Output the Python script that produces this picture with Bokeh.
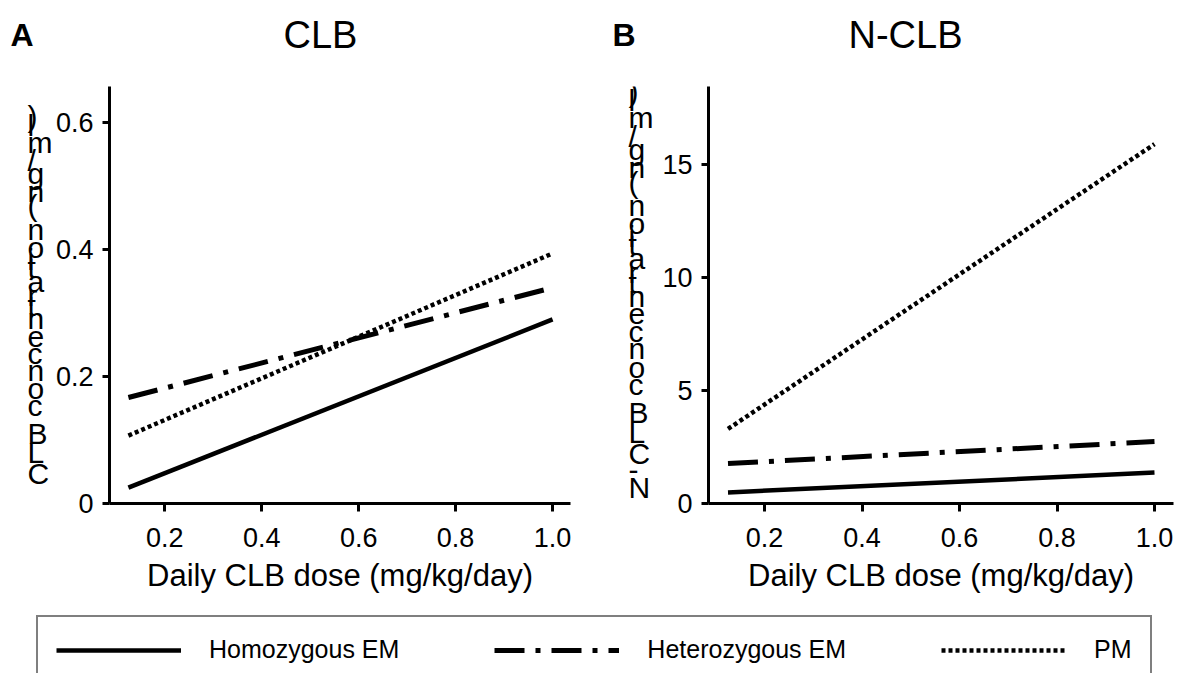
from bokeh.plotting import figure
from bokeh.models import Range1d, FixedTicker, Legend, LegendItem, NumeralTickFormatter
from bokeh.core.properties import value
from bokeh.layouts import column, row
from bokeh.embed import file_html
from bokeh.resources import INLINE

# ---------------- data ----------------
dose = [0.125, 1.0]
series_names = ["Homozygous EM", "Heterozygous EM", "PM"]

clb_homo = [0.025, 0.290]
clb_hetero = [0.167, 0.340]
clb_pm = [0.107, 0.394]

nclb_homo = [0.49, 1.37]
nclb_hetero = [1.77, 2.74]
nclb_pm = [3.3, 15.9]

x_ticks = [0.2, 0.4, 0.6, 0.8, 1.0]
clb_ticks = [0, 0.2, 0.4, 0.6]
nclb_ticks = [0, 5, 10, 15]

panel_titles = ["CLB", "N-CLB"]
panel_letters = ["A", "B"]
y_labels = ["CLB concentration (ng/ml)", "N-CLB concentration (ng/ml)"]
x_label = "Daily CLB dose (mg/kg/day)"

FONT = "Liberation Sans"

styles = [
    dict(line_dash="solid", line_width=4.5),
    dict(line_dash="30 11 5 11", line_width=5),
    dict(line_dash="4 3", line_width=4.5),
]

# approximate horizontal advances (em), used to lay out the stacked y-label characters
ADV = {"C": .722, "L": .556, "B": .667, " ": .278, "c": .5, "o": .556, "n": .556,
       "e": .556, "t": .278, "r": .333, "a": .556, "i": .222, "(": .333, ")": .333,
       "g": .556, "/": .278, "m": .833, "l": .222, "N": .722, "-": .333}

TOP_H = 70      # title strip height
MID_H = 530     # panel row height
LEG_H = 73      # legend strip height
B_TOP = 16      # panel border above frame
B_BOT = 97      # panel border below frame


def blank_fig(w, h, y0, y1, bt=0, bb=0):
    f = figure(width=w, height=h, output_backend="svg", toolbar_location=None, title=None,
               x_axis_type=None, y_axis_type=None,
               min_border_left=0, min_border_right=0, min_border_top=bt, min_border_bottom=bb,
               x_range=Range1d(0, w), y_range=Range1d(y0, y1))
    f.grid.visible = False
    f.outline_line_color = None
    return f


def stacked_label_fig(text, w, x_left, y_first, em):
    # frame matches the panel frame; y data = page y
    f = blank_fig(w, MID_H, TOP_H + MID_H - B_BOT, TOP_H + B_TOP, B_TOP, B_BOT)
    xs, ys, cs = [], [], []
    cum = 0.0
    first = ADV[text[0]]
    for ch in text:
        a = ADV[ch]
        if ch != " ":
            xs.append(x_left)
            ys.append(y_first - em * (cum + a / 2 - first / 2))
            cs.append(ch)
        cum += a
    f.text(x=xs, y=ys, text=cs, text_font=value(FONT), text_font_size=value("30px"),
           text_color="black", text_baseline="middle", text_align="left")
    return f


def make_panel(ys, yticks, yrange, xrange, yfmt, overrides, width, bl, br):
    p = figure(width=width, height=MID_H, output_backend="svg", toolbar_location=None, title=None,
               x_range=Range1d(*xrange), y_range=Range1d(*yrange),
               min_border_left=bl, min_border_right=br, min_border_top=B_TOP, min_border_bottom=B_BOT)
    p.grid.visible = False
    p.outline_line_color = None
    for y, st in zip(ys, styles):
        p.line(dose, y, line_color="black", line_cap="butt", **st)
    for ax in (p.xaxis[0], p.yaxis[0]):
        ax.axis_line_width = 3
        ax.axis_line_color = "black"
        ax.major_tick_line_width = 3
        ax.major_tick_line_color = "black"
        ax.major_tick_in = 0
        ax.major_tick_out = 8
        ax.minor_tick_line_color = None
        ax.major_label_text_font = FONT
        ax.major_label_text_font_size = "27px"
        ax.major_label_text_color = "black"
    xa = p.xaxis[0]
    xa.ticker = FixedTicker(ticks=x_ticks)
    xa.formatter = NumeralTickFormatter(format="0.0")
    xa.major_label_standoff = 16
    xa.axis_label = x_label
    xa.axis_label_text_font = FONT
    xa.axis_label_text_font_size = "31px"
    xa.axis_label_text_font_style = "normal"
    xa.axis_label_text_color = "black"
    xa.axis_label_standoff = 8
    ya = p.yaxis[0]
    ya.ticker = FixedTicker(ticks=yticks)
    ya.formatter = NumeralTickFormatter(format=yfmt)
    ya.major_label_overrides = overrides
    ya.major_label_standoff = 9
    ya.major_tick_out = 7
    return p


# ---- title strip (y data = page y) ----
tfig = blank_fig(1179, TOP_H, TOP_H, 0)
tfig.text(x=[10, 612], y=[34, 34], text=panel_letters, text_font=value(FONT),
          text_font_size=value("32px"), text_font_style="bold", text_color="black",
          text_align="left", text_baseline="middle")
tfig.text(x=[320, 905], y=[34, 34], text=panel_titles, text_font=value(FONT),
          text_font_size=value("38px"), text_color="black",
          text_align="center", text_baseline="middle")

# ---- panels ----
labA = stacked_label_fig(y_labels[0], 52, 27, 473, 32.2)
pA = make_panel([clb_homo, clb_hetero, clb_pm], clb_ticks, (0, 0.657), (0.086, 1.037),
                "0.0", {0: "0"}, 548, 53, 30)
labB = stacked_label_fig(y_labels[1], 56, 28, 487, 32.6)
pB = make_panel([nclb_homo, nclb_hetero, nclb_pm], nclb_ticks, (0, 18.45), (0.085, 1.039),
                "0", {}, 523, 52, 6)

# ---- legend strip ----
pl = figure(width=1179, height=LEG_H, output_backend="svg", toolbar_location=None, title=None,
            x_axis_type=None, y_axis_type=None, min_border=0,
            x_range=Range1d(0, 1), y_range=Range1d(100, 101))
pl.grid.visible = False
pl.outline_line_color = None
rends = [pl.line(dose, y, line_color="black", line_cap="butt", **st)
         for y, st in zip([clb_homo, clb_hetero, clb_pm], styles)]
legend = Legend(items=[LegendItem(label=n, renderers=[r]) for n, r in zip(series_names, rends)],
                orientation="horizontal", location=(36, -11), padding=18, spacing=95,
                glyph_width=125, glyph_height=26, label_height=26, label_standoff=28,
                label_text_font=FONT, label_text_font_size="25px", label_text_color="black",
                border_line_color="black", border_line_width=2.5,
                background_fill_color="white", background_fill_alpha=1.0, margin=0)
pl.add_layout(legend, "center")

layout = column(tfig, row(labA, pA, labB, pB), pl)
open("out.html", "w").write(file_html(layout, INLINE))
